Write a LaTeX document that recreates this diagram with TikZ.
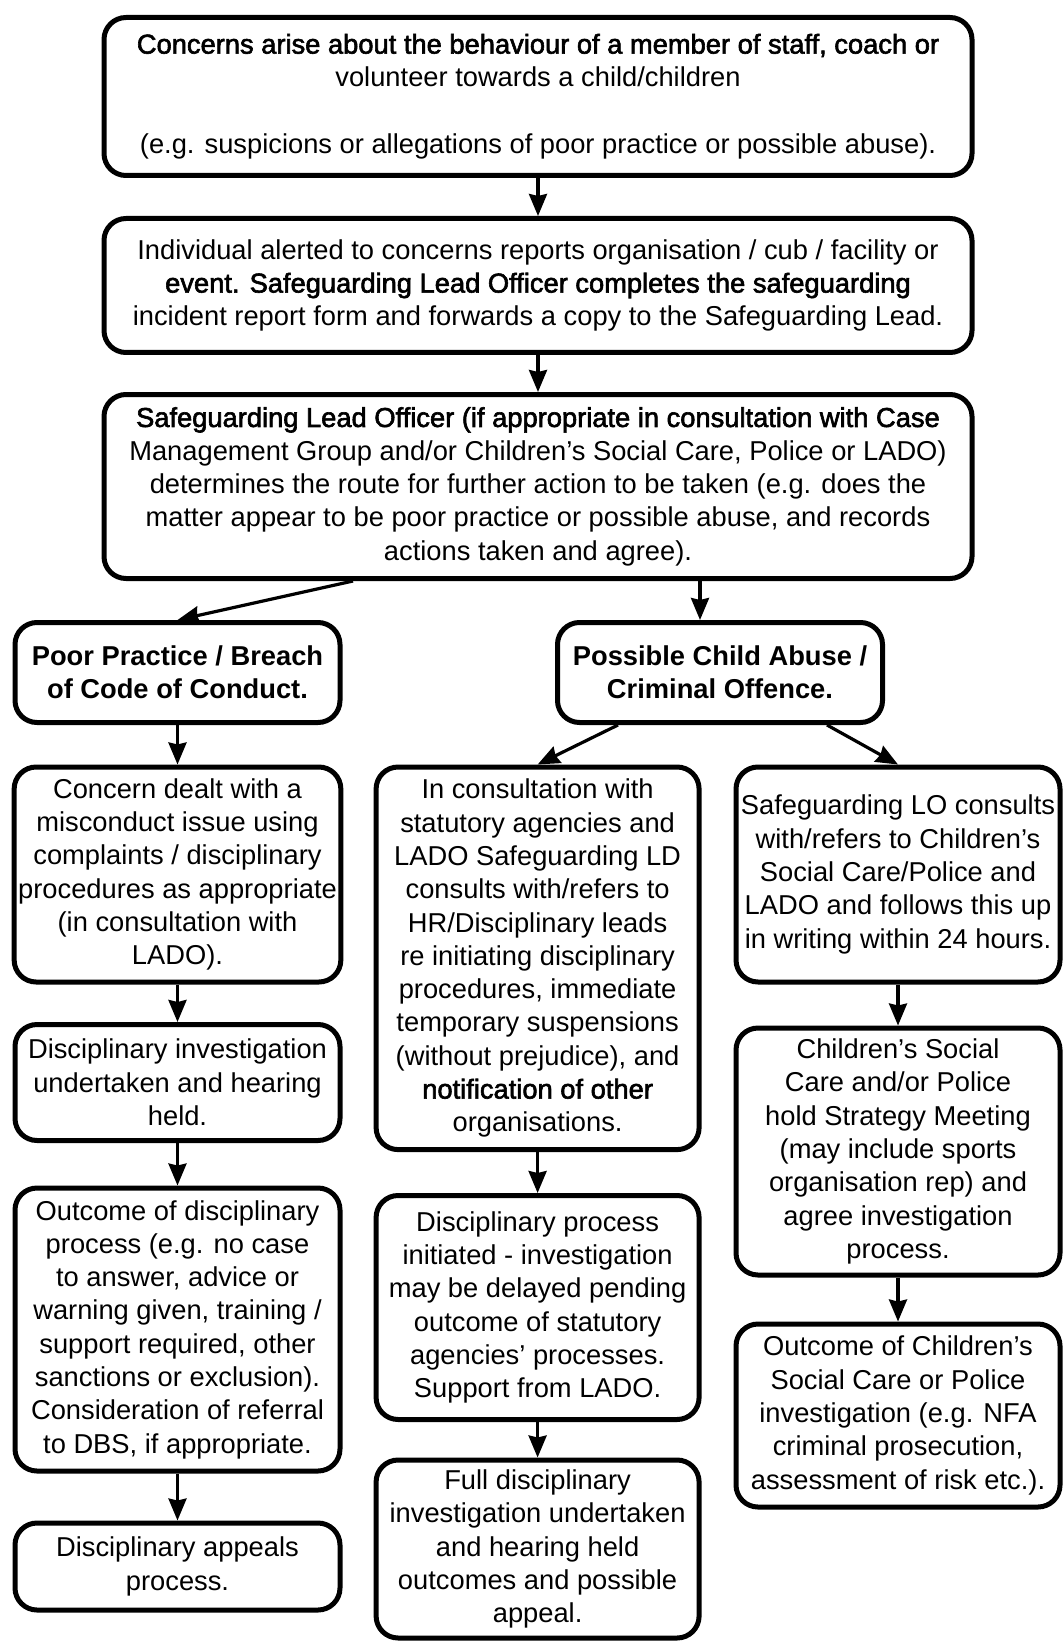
\documentclass[tikz,border=0pt]{standalone}
\usepackage{fontspec}
\setmainfont{Liberation Sans}
\newfontfamily\fakebold{Liberation Sans}[FakeBold=2.2]
\usetikzlibrary{arrows.meta}
\tikzstyle{box} = [rectangle, rounded corners=11pt, anchor=north, align=center, inner sep=2pt, draw=black, line width=2.5pt]
\tikzstyle{arrow} = [line width=1.6pt,-{Stealth[length=11pt,width=9pt,inset=1pt]}]
\tikzstyle{every node}=[font=\fontsize{13.65pt}{16.65pt}\selectfont]

\begin{document}
\begin{tikzpicture}[x=0.5pt, y=-0.5pt]
\useasboundingbox (0,0) rectangle (1063,1642);

\node (concern) [box, minimum width=434pt, minimum height=79pt] at (538,15) {{\fakebold Concerns arise about the behaviour of a member of staff, coach or}\\ volunteer towards a child/children\\[16.65pt] (e.g. suspicions or allegations of poor practice or possible abuse).};
\node (alert) [box, minimum width=434pt, minimum height=67pt] at (538,216) {Individual alerted to concerns reports organisation / cub / facility or\\ {\fakebold event. Safeguarding Lead Officer completes the safeguarding}\\ incident report form and forwards a copy to the Safeguarding Lead.};
\node (route) [box, minimum width=434pt, minimum height=92pt] at (538,392) {{\fakebold Safeguarding Lead Officer (if appropriate in consultation with Case}\\ Management Group and/or Children’s Social Care, Police or LADO)\\ determines the route for further action to be taken (e.g. does the\\ matter appear to be poor practice or possible abuse, and records\\ actions taken and agree).};

\node (poor) [box, minimum width=162.5pt, minimum height=50pt, font=\fontsize{13.65pt}{16.65pt}\selectfont\bfseries] at (177.5,620) {Poor Practice / Breach\\ of Code of Conduct.};
\node (abuse) [box, minimum width=162.5pt, minimum height=50pt, font=\fontsize{13.65pt}{16.65pt}\selectfont\bfseries] at (720,620) {Possible Child Abuse /\\ Criminal Offence.};

\node (misconduct) [box, minimum width=162.5pt, minimum height=107.5pt] at (177.5,764.5) {Concern dealt with a\\ misconduct issue using\\ complaints / disciplinary\\ procedures as appropriate\\ (in consultation with\\ LADO).};
\node (hearing) [box, minimum width=162.5pt, minimum height=58pt] at (177.5,1022) {Disciplinary investigation\\ undertaken and hearing\\ held.};
\node (outcome) [box, minimum width=162.5pt, minimum height=141.5pt] at (177.5,1185.5) {Outcome of disciplinary\\ process (e.g. no case\\ to answer, advice or\\ warning given, training /\\ support required, other\\ sanctions or exclusion).\\ Consideration of referral\\ to DBS, if appropriate.};
\node (appeals) [box, minimum width=162.5pt, minimum height=43.5pt] at (177.5,1520.5) {Disciplinary appeals\\ process.};

\node (consult) [box, minimum width=161.5pt, minimum height=191.3pt] at (537.6,764.5) {In consultation with\\ statutory agencies and\\ LADO Safeguarding LD\\ consults with/refers to\\ HR/Disciplinary leads\\ re initiating disciplinary\\ procedures, immediate\\ temporary suspensions\\ (without prejudice), and\\ {\fakebold notification of other}\\ organisations.};
\node (initiated) [box, minimum width=161.5pt, minimum height=112pt] at (537.6,1193) {Disciplinary process\\ initiated - investigation\\ may be delayed pending\\ outcome of statutory\\ agencies’ processes.\\ Support from LADO.};
\node (full) [box, minimum width=161.5pt, minimum height=89pt] at (537.6,1457.5) {Full disciplinary\\ investigation undertaken\\ and hearing held\\ outcomes and possible\\ appeal.};

\node (refer) [box, minimum width=162pt, minimum height=107.5pt] at (898,764.5) {Safeguarding LO consults\\ with/refers to Children’s\\ Social Care/Police and\\ LADO and follows this up\\ in writing within 24 hours.};
\node (strategy) [box, minimum width=162pt, minimum height=123.5pt] at (898,1025.5) {Children’s Social\\ Care and/or Police\\ hold Strategy Meeting\\ (may include sports\\ organisation rep) and\\ agree investigation\\ process.};
\node (police) [box, minimum width=162pt, minimum height=91.5pt] at (898,1321.5) {Outcome of Children’s\\ Social Care or Police\\ investigation (e.g. NFA\\ criminal prosecution,\\ assessment of risk etc.).};

\draw [arrow] (concern) -- (alert);
\draw [arrow] (alert) -- (route);
\draw [arrow] ([xshift=-92.5pt]route.south) -- (poor.north);
\draw [arrow] ([xshift=81pt]route.south) -- ([xshift=-10pt]abuse.north);
\draw [arrow] (poor) -- (misconduct);
\draw [arrow] (misconduct) -- (hearing);
\draw [arrow] (hearing) -- (outcome);
\draw [arrow] (outcome) -- (appeals);
\draw [arrow] ([xshift=-51pt]abuse.south) -- (consult.north);
\draw [arrow] ([xshift=53.5pt]abuse.south) -- (refer.north);
\draw [arrow] (consult) -- (initiated);
\draw [arrow] (initiated) -- (full);
\draw [arrow] (refer) -- (strategy);
\draw [arrow] (strategy) -- (police);

\end{tikzpicture}
\end{document}
